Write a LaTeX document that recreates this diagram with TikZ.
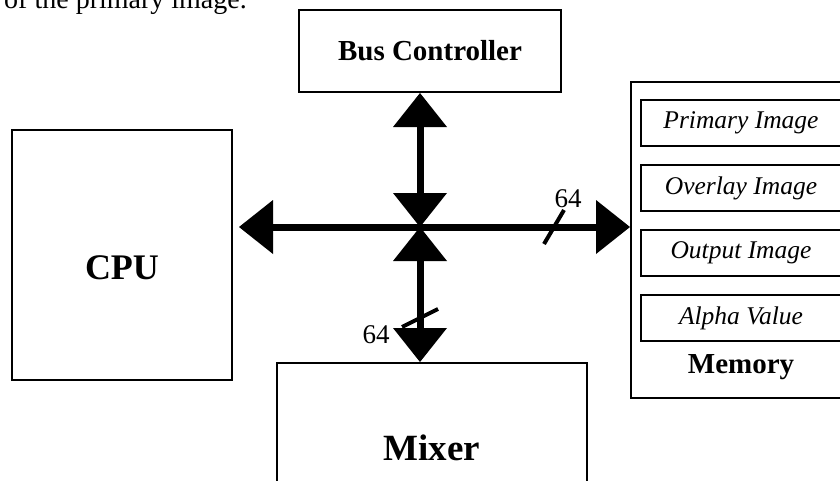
\documentclass[tikz,border=0pt]{standalone}
\usepackage{fontspec}
\setmainfont{Liberation Serif}
\usetikzlibrary{positioning,arrows.meta}

\begin{document}
\begin{tikzpicture}[>={Triangle[length=34pt,width=54pt,line width=0pt]}, x=1pt, y=-1pt, node distance=17pt,
    unit/.style={draw, line width=2pt, inner sep=0pt},
    slot/.style={draw, line width=2pt, inner sep=0pt, minimum width=200pt, minimum height=46pt,
      font=\fontsize{25.5}{28}\selectfont\itshape},
    title/.style={font=\fontsize{29}{32}\selectfont\bfseries},
    bigtitle/.style={font=\fontsize{37}{42}\selectfont\bfseries},
    bus/.style={line width=7pt},
    busmark/.style={line width=4pt},
    busnum/.style={font=\fontsize{27}{30}\selectfont, inner sep=0pt}]
    \useasboundingbox (0,0) rectangle (840,480);

    \node[anchor=base east, inner sep=0pt, font=\fontsize{28}{32}\selectfont] (intro) at (247,8) {of the primary image.};

    % units round the bus
    \node[unit, minimum width=262pt, minimum height=82pt, title] (bc) at (430,51) {Bus Controller};
    \node[unit, minimum width=220pt, minimum height=250pt] (cpu) at (122,255) {};
    \node[bigtitle, font=\fontsize{36}{40}\selectfont\bfseries] (cpuname) at (122,268) {CPU};
    \node[unit, minimum width=310pt, minimum height=137pt] (mix) at (432,431.5) {};
    \node[bigtitle] (mixname) at (432,448) {Mixer};

    % memory with its buffers
    \node[unit, minimum width=220pt, minimum height=316pt] (mem) at (741,240) {};
    \node[slot] (primary) at (741,123) {Primary Image};
    \node[slot, below=of primary] (overlay) {Overlay Image};
    \node[slot, below=of overlay] (output) {Output Image};
    \node[slot, below=of output] (alpha) {Alpha Value};
    \node[title] (memname) at (741,367) {Memory};

    % the bus
    \coordinate (bus) at (420,227);
    \draw[bus, <->, shorten <=6pt] (cpu.east |- bus) -- (mem.west |- bus);
    \draw[bus, <->] (bus |- bc.south) -- (bus);
    \draw[bus, <->] (bus) -- (bus |- mix.north);

    % 64 bit marks
    \coordinate (tickR) at (554,227);
    \draw[busmark] ([shift={(-10,17)}]tickR) -- ([shift={(10,-17)}]tickR);
    \node[busnum] (wR) at (568,199) {64};
    \coordinate (tickB) at (420,318);
    \draw[busmark] ([shift={(-18,9)}]tickB) -- ([shift={(18,-9)}]tickB);
    \node[busnum] (wB) at (376,335) {64};
\end{tikzpicture}
\end{document}
